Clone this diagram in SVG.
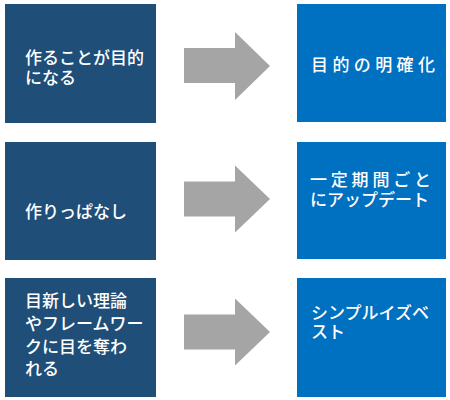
<svg xmlns="http://www.w3.org/2000/svg" width="450" height="400" viewBox="0 0 450 400">
<style>
.l{fill:#1F4E79}
.r{fill:#0070C0}
.a{fill:#A5A5A5}
text{font-family:"Noto Sans CJK JP","Noto Sans CJK SC",sans-serif;font-size:17px;fill:#FFFFFF;font-weight:500}
</style>
<rect width="450" height="400" fill="#FFFFFF"/>
<g id="connectors">
<polygon class="a" points="184,48 235,48 235,32 270,66 235,100 235,83 184,83"/>
<polygon class="a" points="184,181.5 235,181.5 235,165.5 270,199 235,232.5 235,216.5 184,216.5"/>
<polygon class="a" points="184,314.5 235,314.5 235,298.5 270,332 235,365.5 235,349.5 184,349.5"/>
</g>
<g id="node-l1">
<rect class="l" x="5" y="4" width="151" height="119"/>
<text x="25" y="64">作ることが目的</text>
<text x="25" y="84">になる</text>
</g>
<g id="node-r1">
<rect class="r" x="297" y="4" width="149" height="118"/>
<text x="311" y="71" textLength="124" lengthAdjust="spacing">目的の明確化</text>
</g>
<g id="node-l2">
<rect class="l" x="5" y="142" width="151" height="118"/>
<text x="25" y="218">作りっぱなし</text>
</g>
<g id="node-r2">
<rect class="r" x="297" y="142" width="149" height="117"/>
<text x="310" y="186" textLength="121" lengthAdjust="spacing">一定期間ごと</text>
<text x="310" y="206">にアップデート</text>
</g>
<g id="node-l3">
<rect class="l" x="5" y="278" width="151" height="119"/>
<text x="25" y="307">目新しい理論</text>
<text x="25" y="330">やフレームワー</text>
<text x="25" y="353">クに目を奪わ</text>
<text x="25" y="375">れる</text>
</g>
<g id="node-r3">
<rect class="r" x="297" y="278" width="149" height="119"/>
<text x="311" y="319">シンプルイズベ</text>
<text x="311" y="338">スト</text>
</g>
</svg>
